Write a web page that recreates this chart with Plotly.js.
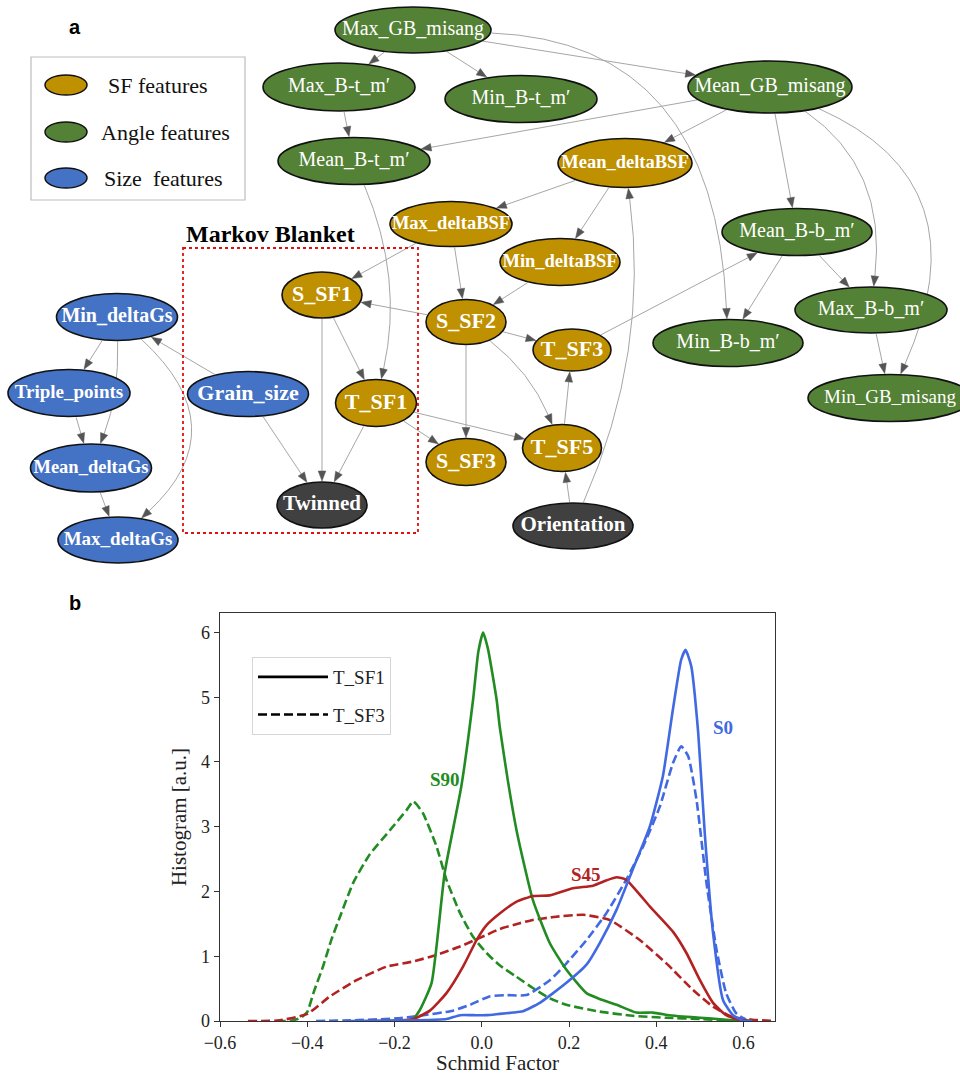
<!DOCTYPE html>
<html><head><meta charset="utf-8">
<script src="https://cdn.plot.ly/plotly-3.0.1.min.js"></script>
<style>body{margin:0;background:#fff}</style>
</head><body><div id="chart" style="width:960px;height:1075px"></div>
<script>
// ================= Panel a : Bayesian network =================
const nodeNames = ['Max_GB_misang','Max_B-t_m\u2032','Min_B-t_m\u2032','Mean_B-t_m\u2032','Mean_GB_misang','Mean_deltaBSF','Max_deltaBSF','Min_deltaBSF','Mean_B-b_m\u2032','S_SF1','S_SF2','T_SF3','Min_B-b_m\u2032','Max_B-b_m\u2032','Min_GB_misang','T_SF1','Grain_size','Min_deltaGs','Triple_points','Mean_deltaGs','Max_deltaGs','Twinned','S_SF3','T_SF5','Orientation'];
const nodeGroup = ['angle','angle','angle','angle','angle','sf','sf','sf','angle','sf','sf','sf','angle','angle','angle','sf','size','size','size','size','size','target','sf','sf','target'];
// graph layout (node centres and ellipse sizes, in layout pixels)
const nodeX = [413,339,521,354,770,625,451,560,797,322,466,572,728,871,890,376,248,117,69,91,118,322,466,562,573];
const nodeY = [30,87,99,161,87,163,224,262,232,295,322,350,343,310,398,403,394,317,393,468,540,505,462,448,526];
const nodeW = [156,152,152,152,164,134,122,120,150,80,80,78,150,152,164,81,121,121,122,121,120,90,80,79,120];
const nodeH = [46,48,47,47,52,49,45,47,47,46,45,42,47,46,47,47,45,47,47,48,46,46,47,47,46];
const nodeFont = [20,20,20,20,20,18.5,18.5,18.5,20,22,22,22,20,20,19,22,22,20,19,18.5,19,21,22,22,21];

const edgeFrom = ['Max_GB_misang','Max_GB_misang','Max_GB_misang','Max_GB_misang','Max_B-t_m\u2032','Mean_GB_misang','Mean_GB_misang','Mean_GB_misang','Mean_GB_misang','Mean_GB_misang','Mean_B-t_m\u2032','Mean_deltaBSF','Mean_deltaBSF','Orientation','Max_deltaBSF','Max_deltaBSF','Min_deltaBSF','S_SF2','S_SF2','S_SF2','S_SF2','T_SF3','Mean_B-b_m\u2032','Mean_B-b_m\u2032','Max_B-b_m\u2032','T_SF5','Orientation','S_SF1','S_SF1','T_SF1','T_SF1','T_SF1','Grain_size','Grain_size','Min_deltaGs','Min_deltaGs','Min_deltaGs','Triple_points','Mean_deltaGs'];
const edgeTo = ['Max_B-t_m\u2032','Min_B-t_m\u2032','Mean_GB_misang','Min_B-b_m\u2032','Mean_B-t_m\u2032','Mean_B-t_m\u2032','Mean_deltaBSF','Mean_B-b_m\u2032','Max_B-b_m\u2032','Min_GB_misang','T_SF1','Max_deltaBSF','Min_deltaBSF','Mean_deltaBSF','S_SF1','S_SF2','S_SF2','S_SF1','T_SF3','S_SF3','T_SF5','Mean_B-b_m\u2032','Min_B-b_m\u2032','Max_B-b_m\u2032','Min_GB_misang','T_SF3','T_SF5','T_SF1','Twinned','Twinned','S_SF3','T_SF5','Twinned','Min_deltaGs','Triple_points','Mean_deltaGs','Max_deltaGs','Mean_deltaGs','Max_deltaGs'];
const edgeBend = [0,0,0,0.46,0,0,0,0,0.3,0.5,0.16,0,0,-0.14,0,0,0,0,0,0,0.13,0,0,0,0,0,0,0,0,0,0,0,0,0,0,0.1,0.54,0,0];

const legendGroups = ['sf','angle','size'];
const legendLabels = ['SF features','Angle features','Size  features'];

// ================= Panel b : Schmid factor distributions =================
const xTicks = [-0.6,-0.4,-0.2,0.0,0.2,0.4,0.6];
const yTicks = [0,1,2,3,4,5,6];

const s90_tsf1_x = [-0.22,-0.175,-0.158,-0.142,-0.115,-0.085,-0.047,-0.02,-0.008,0.003,0.014,0.034,0.041,0.06,0.081,0.117,0.156,0.194,0.24,0.27,0.309,0.354,0.392,0.43,0.46,0.5,0.54,0.58,0.62];
const s90_tsf1_y = [0,0.0,0.03,0.17,0.59,2.29,3.62,4.96,5.7,6.0,5.75,4.96,4.55,3.7,2.9,1.87,1.2,0.79,0.43,0.34,0.25,0.13,0.13,0.09,0.07,0.05,0.03,0.01,0];
const s90_tsf3_x = [-0.47,-0.44,-0.415,-0.40,-0.385,-0.364,-0.345,-0.325,-0.295,-0.257,-0.21,-0.172,-0.157,-0.135,-0.104,-0.081,-0.05,-0.02,0.011,0.041,0.079,0.117,0.156,0.194,0.27,0.346,0.422,0.5,0.56,0.62];
const s90_tsf3_y = [0,0.0,0.05,0.14,0.45,0.84,1.25,1.61,2.13,2.57,2.95,3.26,3.39,3.21,2.7,2.18,1.67,1.30,1.05,0.86,0.685,0.51,0.35,0.25,0.145,0.08,0.05,0.03,0.01,0];
const s45_tsf1_x = [-0.26,-0.21,-0.157,-0.119,-0.081,-0.043,-0.012,0.011,0.041,0.079,0.118,0.156,0.209,0.255,0.285,0.309,0.331,0.385,0.438,0.469,0.5,0.53,0.56,0.59,0.62];
const s45_tsf1_y = [0,0.0,0.03,0.16,0.43,0.84,1.25,1.48,1.66,1.84,1.93,1.94,2.05,2.09,2.17,2.22,2.18,1.77,1.38,1.05,0.63,0.28,0.09,0.02,0];
const s45_tsf3_x = [-0.536,-0.463,-0.40,-0.348,-0.287,-0.218,-0.157,-0.104,-0.05,0.011,0.041,0.087,0.117,0.17,0.232,0.293,0.362,0.423,0.484,0.53,0.575,0.62,0.672];
const s45_tsf3_y = [0,0.01,0.11,0.38,0.63,0.84,0.92,1.02,1.15,1.33,1.42,1.51,1.56,1.61,1.64,1.56,1.25,0.89,0.48,0.22,0.06,0.02,0];
const s0_tsf1_x = [-0.3,-0.15,-0.081,-0.05,-0.02,0.011,0.041,0.072,0.094,0.133,0.194,0.24,0.27,0.309,0.346,0.385,0.415,0.438,0.457,0.467,0.48,0.496,0.511,0.53,0.553,0.576,0.6,0.62];
const s0_tsf1_y = [0,0.01,0.03,0.09,0.09,0.09,0.11,0.13,0.15,0.28,0.59,0.87,1.2,1.72,2.34,3.0,3.78,4.81,5.58,5.73,5.48,4.45,2.9,1.36,0.32,0.09,0.0,0];
const s0_tsf3_x = [-0.38,-0.3,-0.196,-0.143,-0.066,-0.027,0.018,0.056,0.102,0.156,0.194,0.24,0.286,0.331,0.37,0.408,0.438,0.457,0.473,0.492,0.515,0.538,0.56,0.583,0.61];
const s0_tsf3_y = [0,0.01,0.04,0.08,0.16,0.25,0.38,0.4,0.4,0.63,0.89,1.25,1.67,2.18,2.7,3.31,3.98,4.24,4.09,3.42,2.13,1.1,0.43,0.12,0];

const seriesLabels = ['S90','S45','S0'];
const labelX = [-0.085,0.238,0.553];
const labelY = [3.73,2.26,4.53];

// ================= styling =================
const FILL = {sf:'#BF9000', angle:'#538135', size:'#4472C4', target:'#404040'};
const COL = {S90:'#228B22', S45:'#B22222', S0:'#4169E1'};
const SERIF = 'Liberation Serif, Times New Roman, serif';

const shapes = [];
const annotations = [];
const idx = n => nodeNames.indexOf(n);

function boundary(i, tx, ty) {
  const cx = nodeX[i], cy = nodeY[i];
  const a = nodeW[i]/2 + 1, b = nodeH[i]/2 + 1;
  const dx = tx - cx, dy = ty - cy;
  const t = 1/Math.sqrt((dx/a)*(dx/a) + (dy/b)*(dy/b));
  return [cx + dx*t, cy + dy*t];
}

// edges
const AL = 10, AW = 3.8;
for (let k = 0; k < edgeFrom.length; k++) {
  const s = idx(edgeFrom[k]), t = idx(edgeTo[k]);
  const dx = nodeX[t]-nodeX[s], dy = nodeY[t]-nodeY[s];
  const len = Math.hypot(dx, dy);
  const px = dy/len, py = -dx/len;
  const bend = edgeBend[k];
  let p0, p2, cpt, ux, uy;
  if (bend === 0) {
    p0 = boundary(s, nodeX[t], nodeY[t]);
    p2 = boundary(t, nodeX[s], nodeY[s]);
    ux = p2[0]-p0[0]; uy = p2[1]-p0[1];
  } else {
    cpt = [(nodeX[s]+nodeX[t])/2 + bend*len*px, (nodeY[s]+nodeY[t])/2 + bend*len*py];
    p0 = boundary(s, cpt[0], cpt[1]);
    p2 = boundary(t, cpt[0], cpt[1]);
    ux = p2[0]-cpt[0]; uy = p2[1]-cpt[1];
  }
  const ul = Math.hypot(ux, uy); ux /= ul; uy /= ul;
  const e = [p2[0]-ux*AL, p2[1]-uy*AL];
  const path = bend === 0
    ? `M ${p0[0]},${p0[1]} L ${e[0]},${e[1]}`
    : `M ${p0[0]},${p0[1]} Q ${cpt[0]},${cpt[1]} ${e[0]},${e[1]}`;
  shapes.push({type:'path', layer:'below', xref:'x2', yref:'y2', path:path, line:{color:'#a6a6a6', width:1}});
  const b1 = [e[0]-uy*AW, e[1]+ux*AW], b2 = [e[0]+uy*AW, e[1]-ux*AW];
  shapes.push({type:'path', layer:'below', xref:'x2', yref:'y2',
    path:`M ${p2[0]},${p2[1]} L ${b1[0]},${b1[1]} L ${b2[0]},${b2[1]} Z`,
    fillcolor:'#555555', line:{color:'#555555', width:0.5}});
}

// Markov blanket box
shapes.push({type:'rect', layer:'below', xref:'x2', yref:'y2', x0:183, x1:418, y0:248, y1:533,
  line:{color:'#e01010', width:1.8, dash:'dot'}, fillcolor:'rgba(0,0,0,0)'});

// nodes
for (let i = 0; i < nodeNames.length; i++) {
  shapes.push({type:'circle', layer:'below', xref:'x2', yref:'y2',
    x0:nodeX[i]-nodeW[i]/2, x1:nodeX[i]+nodeW[i]/2,
    y0:nodeY[i]-nodeH[i]/2, y1:nodeY[i]+nodeH[i]/2,
    fillcolor:FILL[nodeGroup[i]], line:{color:'#111111', width:1.6}});
}

// legend of panel a
shapes.push({type:'rect', layer:'below', xref:'x2', yref:'y2', x0:31, x1:245, y0:57, y1:200,
  line:{color:'#bdbdbd', width:1.2}, fillcolor:'rgba(0,0,0,0)'});
const legY = [85,132,178], legTx = [106,99,102];
for (let k = 0; k < legendGroups.length; k++) {
  shapes.push({type:'circle', layer:'below', xref:'x2', yref:'y2', x0:45, x1:87, y0:legY[k]-10, y1:legY[k]+10,
    fillcolor:FILL[legendGroups[k]], line:{color:'#111111', width:1.5}});
  annotations.push({xref:'x2', yref:'y2', x:legTx[k], y:legY[k], text:legendLabels[k],
    showarrow:false, xanchor:'left', yanchor:'middle', font:{family:SERIF, size:22, color:'#111'}});
}

annotations.push({xref:'x2', yref:'y2', x:184, y:234, text:'<b>Markov Blanket</b>', showarrow:false,
  xanchor:'left', yanchor:'middle', font:{family:SERIF, size:24, color:'#000'}});
annotations.push({xref:'x2', yref:'y2', x:75, y:27, text:'<b>a</b>', showarrow:false,
  font:{family:'Liberation Sans, Arial, sans-serif', size:20, color:'#000'}});
annotations.push({xref:'x2', yref:'y2', x:75, y:603, text:'<b>b</b>', showarrow:false,
  font:{family:'Liberation Sans, Arial, sans-serif', size:20, color:'#000'}});

// series labels panel b
const labelCols = [COL.S90, COL.S45, COL.S0];
for (let k = 0; k < seriesLabels.length; k++) {
  annotations.push({xref:'x', yref:'y', x:labelX[k], y:labelY[k], text:'<b>'+seriesLabels[k]+'</b>',
    showarrow:false, font:{family:SERIF, size:19, color:labelCols[k]}});
}

// node labels trace
const nodeText = nodeNames.map((n,i) => nodeGroup[i] === 'angle' ? n : '<b>'+n+'</b>');
const traces = [{
  type:'scatter', mode:'text', x:nodeX, y:nodeY, text:nodeText, xaxis:'x2', yaxis:'y2',
  textposition:'middle center', hoverinfo:'skip', showlegend:false, cliponaxis:false,
  textfont:{family:SERIF, size:nodeFont, color:'#ffffff'}
}];

function curve(x, y, color, dash) {
  return {type:'scatter', mode:'lines', x:x, y:y, xaxis:'x', yaxis:'y', showlegend:false, hoverinfo:'skip',
    line:{color:color, width:2.6, dash:dash, shape:'spline', smoothing:0.5}};
}
traces.push(curve(s90_tsf3_x, s90_tsf3_y, COL.S90, '9px,4px'));
traces.push(curve(s45_tsf3_x, s45_tsf3_y, COL.S45, '9px,4px'));
traces.push(curve(s0_tsf3_x, s0_tsf3_y, COL.S0, '9px,4px'));
traces.push(curve(s90_tsf1_x, s90_tsf1_y, COL.S90, 'solid'));
traces.push(curve(s45_tsf1_x, s45_tsf1_y, COL.S45, 'solid'));
traces.push(curve(s0_tsf1_x, s0_tsf1_y, COL.S0, 'solid'));
traces.push({type:'scatter', mode:'lines', x:[null], y:[null], xaxis:'x', yaxis:'y', name:'T_SF1',
  legendgroup:'g1', line:{color:'#000', width:2.6}});
traces.push({type:'scatter', mode:'lines', x:[null], y:[null], xaxis:'x', yaxis:'y', name:'T_SF3',
  legendgroup:'g2', line:{color:'#000', width:2.6, dash:'9px,4px'}});

const tickFont = {family:SERIF, size:18, color:'#222'};
const layout = {
  width:960, height:1075, margin:{l:0, r:0, t:0, b:0}, autosize:false,
  paper_bgcolor:'#fff', plot_bgcolor:'rgba(0,0,0,0)',
  showlegend:true,
  legend:{x:252/960, y:1-657/1075, xanchor:'left', yanchor:'top', bgcolor:'#fff',
    bordercolor:'#d6d6d6', borderwidth:1, tracegroupgap:10, itemwidth:70,
    font:{family:SERIF, size:19, color:'#222'}},
  xaxis:{domain:[220/960, 775/960], range:[-0.6, 0.672], anchor:'y', tickvals:xTicks, tickformat:'.1f',
    ticks:'outside', ticklen:5, tickcolor:'#333', showline:true, mirror:true, linecolor:'#333', linewidth:1.3,
    showgrid:false, zeroline:false, tickfont:tickFont,
    title:{text:'Schmid Factor', font:{family:SERIF, size:21, color:'#222'}, standoff:9}},
  yaxis:{domain:[54/1075, 462/1075], range:[0, 6.3], anchor:'x', tickvals:yTicks,
    ticks:'outside', ticklen:5, tickcolor:'#333', showline:true, mirror:true, linecolor:'#333', linewidth:1.3,
    showgrid:false, zeroline:false, tickfont:tickFont,
    title:{text:'Histogram [a.u.]', font:{family:SERIF, size:21, color:'#222'}, standoff:8}},
  xaxis2:{domain:[0,1], range:[0,960], anchor:'y2', visible:false, showgrid:false, zeroline:false},
  yaxis2:{domain:[0,1], range:[1075,0], anchor:'x2', visible:false, showgrid:false, zeroline:false},
  shapes:shapes, annotations:annotations
};
Plotly.newPlot('chart', traces, layout, {staticPlot:true, displayModeBar:false});
</script></body></html>
